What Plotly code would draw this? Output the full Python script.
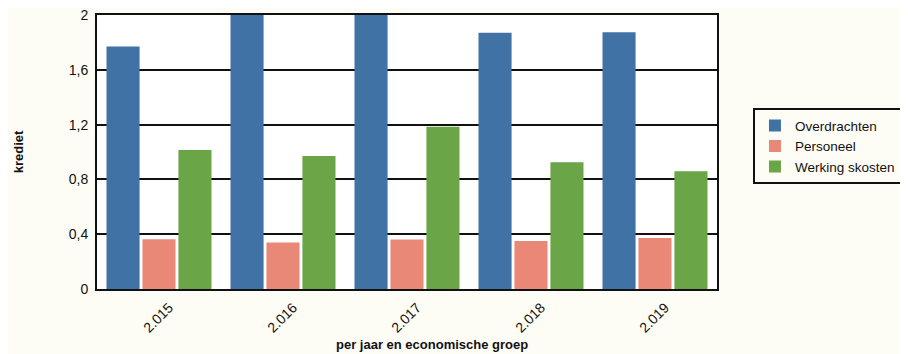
import plotly.graph_objects as go

years = ["2.015", "2.016", "2.017", "2.018", "2.019"]
overdrachten = [1.77, 2.25, 2.3, 1.87, 1.875]
personeel = [0.363, 0.34, 0.362, 0.35, 0.372]
werkingskosten = [1.015, 0.97, 1.185, 0.925, 0.86]

y_tickvals = [0, 0.4, 0.8, 1.2, 1.6, 2]
y_ticktext = ["0", "0,4", "0,8", "1,2", "1,6", "2"]

colors = {"Overdrachten": "#4172a6", "Personeel": "#ea8878", "Werking skosten": "#6aa548"}

fig = go.Figure()
for name, vals in [("Overdrachten", overdrachten), ("Personeel", personeel), ("Werking skosten", werkingskosten)]:
    fig.add_trace(go.Bar(x=years, y=vals, name=name, marker=dict(color=colors[name], line=dict(width=0))))

font_family = "Liberation Sans, Arial, sans-serif"

# page body has an 8px default margin, compensate so the plot area lands at x 97-717, y 15-289
fig.update_layout(
    width=908, height=354,
    margin=dict(l=89, r=199, t=7, b=73, autoexpand=False),
    paper_bgcolor="#fdfdf6",
    plot_bgcolor="#ffffff",
    barmode="group",
    bargap=0.13,
    bargroupgap=0.08,
    font=dict(family=font_family, size=13, color="#111111"),
    showlegend=True,
    legend=dict(
        x=1.058, xanchor="left", y=0.66, yanchor="top",
        bordercolor="#111111", borderwidth=2, bgcolor="rgba(0,0,0,0)",
        font=dict(size=13.5), tracegroupgap=0, itemwidth=30,
    ),
    xaxis=dict(
        automargin=False,
        showline=True, linecolor="#111111", linewidth=2, mirror=True,
        tickangle=-45, ticks="", tickfont=dict(size=14),
        ticklabelshift=10, ticklabelstandoff=3, ticklabeloverflow="allow",
    ),
    yaxis=dict(
        automargin=False,
        range=[0, 2], tickvals=y_tickvals, ticktext=y_ticktext,
        showline=True, linecolor="#111111", linewidth=2, mirror=True,
        showgrid=True, gridcolor="#111111", gridwidth=2,
        zeroline=False, ticks="", tickfont=dict(size=14), ticklabelstandoff=4,
        ticklabeloverflow="allow",
    ),
    annotations=[
        dict(text="<b>per jaar en economische groep</b>", xref="paper", yref="paper",
             x=0.54, y=-0.204, xanchor="center", yanchor="middle", showarrow=False,
             font=dict(size=13)),
        dict(text="<b>krediet</b>", xref="paper", yref="paper",
             x=-0.127, y=0.5, xanchor="center", yanchor="middle", showarrow=False,
             textangle=-90, font=dict(size=13)),
    ],
)

fig.write_html("out.html")
